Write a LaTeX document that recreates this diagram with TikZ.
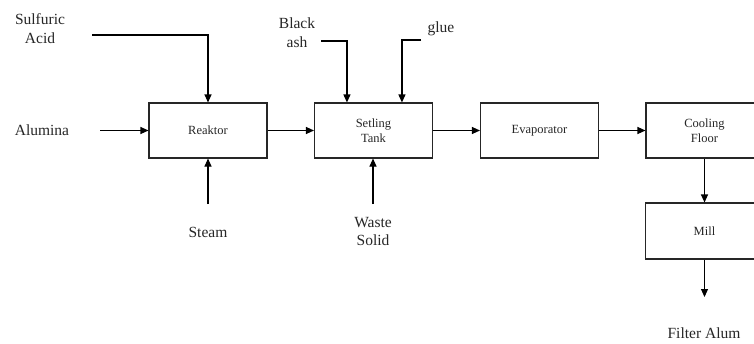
\documentclass[tikz,border=0pt]{standalone}
\usepackage{fontspec}
\setmainfont{Liberation Serif}
\usetikzlibrary{arrows.meta,calc}
\begin{document}
\begin{tikzpicture}[x=1pt,y=-1pt,
  unit/.style={draw=black!85,line width=1.1pt,minimum width=118pt,minimum height=55pt,inner sep=0pt,align=center,font=\fontsize{12.5}{15}\selectfont,text=black!85},
  lbl/.style={align=center,font=\fontsize{15.5}{18.5}\selectfont,text=black!85,inner sep=0pt},
  arr/.style={line width=1.1pt,-{Triangle[length=8pt,width=7pt]}}]
\useasboundingbox (0,0) rectangle (754,343);
\clip (0,0) rectangle (754,343);
\fill[white] (0,0) rectangle (754,343);
% process units
\node[unit] (reak) at (208,130.5) {Reaktor};
\node[unit] (set) at (373.5,130.5) {Setling\\Tank};
\node[unit] (evap) at (539.5,130.5) {Evaporator};
\node[unit,minimum width=117pt] (cool) at (704.5,130.5) {Cooling\\Floor};
\node[unit,minimum height=56pt] (mill) at (704.5,231) {Mill};
% labels
\node[lbl] (sa) at (40,28.5) {Sulfuric\\Acid};
\node[lbl] (alu) at (42,130) {Alumina};
\node[lbl] (ba) at (297,32.5) {Black\\ash};
\node[lbl] (glue) at (441,29) {glue};
\node[lbl] (steam) at (208,232) {Steam};
\node[lbl] (ws) at (373,231.5) {Waste\\Solid};
\node[lbl] (fa) at (704,333) {Filter Alum};
% free ends
\coordinate (saS) at (92,35);
\coordinate (aluS) at (100,130.5);
\coordinate (baS) at (321,41);
\coordinate (glS) at (421,40);
\coordinate (stS) at (208,204);
\coordinate (wsS) at (373,204);
\coordinate (faE) at (704.5,297);
% connectors
\draw[arr] (saS) -| (reak.north);
\draw[arr] (aluS) -- (reak.west);
\draw[arr] (baS) -| ($(set.north west)+(33,0)$);
\draw[arr] (glS) -| ($(set.north west)+(88,0)$);
\draw[arr] (stS) -- (reak.south);
\draw[arr] (wsS) -- (wsS |- set.south);
\draw[arr] (reak.east) -- (set.west);
\draw[arr] (set.east) -- (evap.west);
\draw[arr] (evap.east) -- (cool.west);
\draw[arr] (cool.south) -- (mill.north);
\draw[arr] (mill.south) -- (faE);
\end{tikzpicture}
\end{document}
